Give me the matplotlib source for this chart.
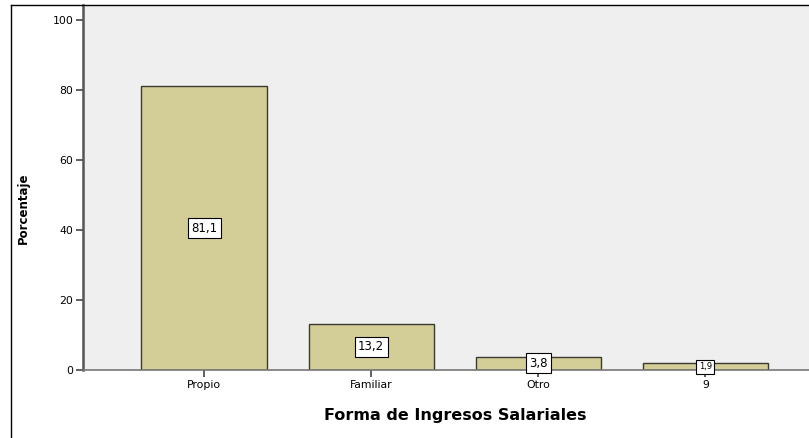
import matplotlib.pyplot as plt
from matplotlib.lines import Line2D

# Data
categorias = ["Propio", "Familiar", "Otro", "9"]
porcentajes = [81.1, 13.2, 3.8, 1.9]
etiquetas = ["81,1", "13,2", "3,8", "1,9"]
tam_etiqueta = [8.5, 8.5, 8.5, 6]

fig = plt.figure(figsize=(8.09, 4.38), dpi=100)
fig.patch.set_facecolor("white")

# outer frame (top and left edges only visible)
fig.add_artist(Line2D([11 / 809, 1.0], [1 - 5 / 438, 1 - 5 / 438], color="black", lw=1))
fig.add_artist(Line2D([11 / 809, 11 / 809], [0, 1 - 5 / 438], color="black", lw=1))

ax = fig.add_axes([83 / 809, 68 / 438, 1 - 83 / 809, (370 - 5) / 438])
ax.set_facecolor("#efefef")

x = list(range(len(categorias)))
ax.bar(x, porcentajes, width=0.75, color="#d3ce97", edgecolor="#3a3a30", linewidth=1, zorder=2)

for xi, v, lab, fs in zip(x, porcentajes, etiquetas, tam_etiqueta):
    ax.text(xi, v / 2, lab, ha="center", va="center", fontsize=fs, zorder=3, clip_on=False,
            bbox=dict(boxstyle="square,pad=0.3", facecolor="white", edgecolor="black", linewidth=0.8))

ax.set_xlim(-0.725, 3.62)
ax.set_ylim(0, 104.3)
ax.set_yticks([0, 20, 40, 60, 80, 100])
ax.set_xticks(x)
ax.set_xticklabels(categorias)
ax.tick_params(axis="both", labelsize=7.8, length=5, width=1.2, color="#444444", pad=2)

for s in ["top", "right"]:
    ax.spines[s].set_visible(False)
ax.spines["left"].set_color("#555555")
ax.spines["left"].set_linewidth(1.8)
ax.spines["bottom"].set_color("#777777")
ax.spines["bottom"].set_linewidth(1.2)

ax.set_xlabel("Forma de Ingresos Salariales", fontsize=11.5, fontweight="bold")
ax.xaxis.set_label_coords((455 - 83) / (809 - 83), -38 / 365)
ax.set_ylabel("Porcentaje", fontsize=8.5, fontweight="bold")
ax.yaxis.set_label_coords(-(83 - 30) / (809 - 83), (370 - 208) / 365)

plt.savefig("out.png", dpi=100)
